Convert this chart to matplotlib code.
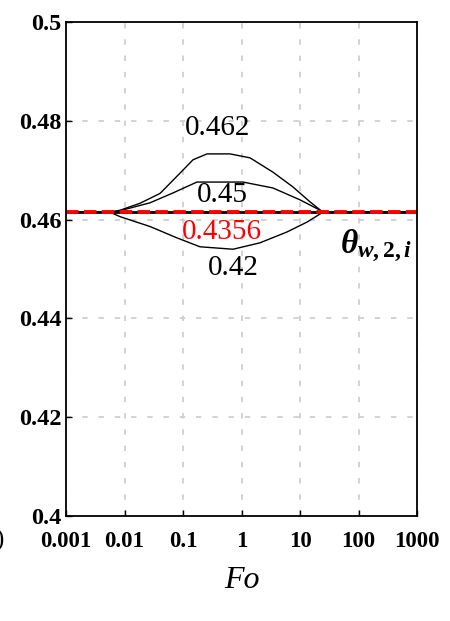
import numpy as np
import matplotlib
matplotlib.use("Agg")
import matplotlib.pyplot as plt

# curves (Fo on a log axis, theta_w,2,i on y)
fo_462 = [0.001, 0.00565, 0.00838, 0.0184, 0.0405, 0.0889, 0.148, 0.257, 0.636, 1.40, 3.45, 7.59, 14.8, 24.7, 1000]
theta_462 = [0.4615, 0.4615, 0.4619, 0.4633, 0.4653, 0.4694, 0.4721, 0.4733, 0.4733, 0.4725, 0.4696, 0.4666, 0.4636, 0.4615, 0.4615]

fo_45 = [0.001, 0.00565, 0.00838, 0.0273, 0.0675, 0.173, 1.06, 3.45, 10, 22, 24.7, 1000]
theta_45 = [0.4615, 0.4615, 0.4618, 0.4634, 0.4654, 0.4676, 0.4676, 0.4664, 0.4640, 0.4619, 0.4615, 0.4615]

fo_42 = [0.001, 0.00565, 0.00838, 0.0273, 0.0789, 0.195, 0.716, 2.07, 6.0, 13.2, 24.7, 1000]
theta_42 = [0.4615, 0.4615, 0.4606, 0.4586, 0.4563, 0.4545, 0.4540, 0.4553, 0.4575, 0.4595, 0.4615, 0.4615]

theta_ref = 0.4615  # 0.4356 case stays flat

x_ticks = [0.001, 0.01, 0.1, 1, 10, 100, 1000]
x_labels = ["0.001", "0.01", "0.1", "1", "10", "100", "1000"]
y_ticks = [0.4, 0.42, 0.44, 0.46, 0.48, 0.5]
y_labels = ["0.4", "0.42", "0.44", "0.46", "0.48", "0.5"]

plt.rcParams['font.family'] = ['Liberation Serif', 'DejaVu Serif']
plt.rcParams['mathtext.fontset'] = 'custom'
plt.rcParams['mathtext.it'] = 'Liberation Serif:italic:bold'
plt.rcParams['mathtext.rm'] = 'Liberation Serif:bold'
plt.rcParams['mathtext.bf'] = 'Liberation Serif:bold'

fig = plt.figure(figsize=(4.5, 6.21), dpi=100)
ax = fig.add_axes([66/450, 1-516/621, (417-66)/450, (516-22)/621])

for xs, ys in [(fo_462, theta_462), (fo_45, theta_45), (fo_42, theta_42)]:
    ax.plot(xs, ys, color='black', linewidth=1.0)

ax.axhline(theta_ref, color='black', linewidth=2.0)
ax.axhline(theta_ref, color='red', linewidth=2.8, dashes=(3.2, 1.4))

ax.set_xscale('log')
ax.set_xlim(0.001, 1000)
ax.set_ylim(0.4, 0.5)
ax.set_xticks(x_ticks)
ax.set_xticklabels(x_labels)
ax.minorticks_off()
ax.set_yticks(y_ticks)
ax.set_yticklabels(y_labels)

ax.tick_params(axis='both', direction='in', length=4, width=1)
ax.tick_params(axis='x', pad=11, labelsize=16.5)
ax.tick_params(axis='y', pad=3, labelsize=17.5)
for lab in ax.get_xticklabels() + ax.get_yticklabels():
    lab.set_fontweight('bold')

ax.grid(True, color='#cfcfcf', linestyle=(0, (3, 6)), linewidth=1.3)
for s in ax.spines.values():
    s.set_linewidth(1.3)

ax.text(0.396, 0.4785, "0.462", fontsize=21, ha='center', va='center')
ax.text(0.465, 0.4650, "0.45", fontsize=21, ha='center', va='center')
ax.text(0.465, 0.4575, "0.4356", fontsize=21, ha='center', va='center', color='red')
ax.text(0.716, 0.4502, "0.42", fontsize=21, ha='center', va='center')
ax.text(200, 0.4547, r'$\theta_{w,2,i}$', fontsize=24, ha='center', va='center')

fig.text(242/450, 1-580/621, "Fo", fontsize=23, style='italic', ha='center', va='center')
fig.text(4/450, 1-540/621, ")", fontsize=18, ha='right', va='center')

fig.savefig("out.png", dpi=100)
